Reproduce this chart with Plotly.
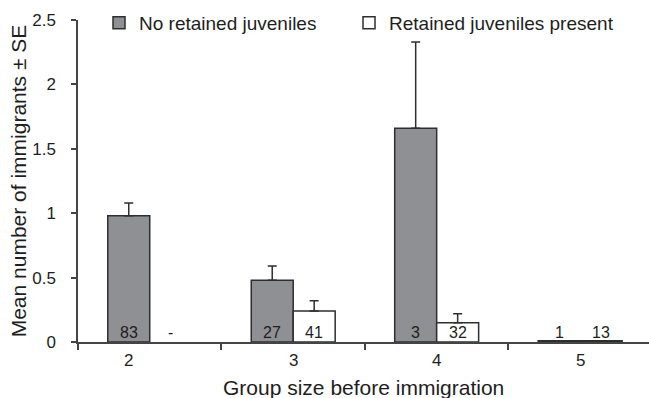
import plotly.graph_objects as go

# Group size before immigration (categories)
group_sizes = ["2", "3", "4", "5"]

# Mean number of immigrants and SE, groups without retained juveniles
no_retained_mean = [0.98, 0.48, 1.66, 0.01]
no_retained_se = [0.10, 0.11, 0.67, 0.0]
no_retained_n = ["83", "27", "3", "1"]

# Mean number of immigrants and SE, groups with retained juveniles present
retained_mean = [None, 0.24, 0.15, 0.01]
retained_se = [None, 0.08, 0.07, 0.0]
retained_n = ["-", "41", "32", "13"]

FONT = "Liberation Sans, Arial, sans-serif"
INK = "#1e1e1e"
EDGE = "#2e2e2e"
BAR_HALF = 21  # pixel offset from category centre to each bar centre

fig = go.Figure()

fig.add_trace(go.Bar(
    x=group_sizes, y=no_retained_mean, name="No retained juveniles",
    legend="legend",
    marker=dict(color="#8f9094", line=dict(color=EDGE, width=1.5)),
    error_y=dict(type="data", symmetric=False, array=no_retained_se,
                 arrayminus=[0] * len(no_retained_se),
                 color=EDGE, thickness=1.5, width=4.5),
))
fig.add_trace(go.Bar(
    x=group_sizes, y=retained_mean, name="Retained juveniles present",
    legend="legend2",
    marker=dict(color="white", line=dict(color=EDGE, width=1.5)),
    error_y=dict(type="data", symmetric=False,
                 array=[0 if v is None else v for v in retained_se],
                 arrayminus=[0] * len(retained_se),
                 color=EDGE, thickness=1.5, width=4.5),
))

annotations = []
# sample sizes written at the foot of each bar (x given as category index)
for i, (n_a, n_b) in enumerate(zip(no_retained_n, retained_n)):
    annotations.append(dict(x=i, y=0, text=n_a, showarrow=False, xshift=-BAR_HALF,
                            yanchor="bottom", yshift=-1, font=dict(size=16, color=INK)))
    annotations.append(dict(x=i, y=0, text=n_b, showarrow=False, xshift=BAR_HALF,
                            yanchor="bottom", yshift=-1, font=dict(size=16, color=INK)))

# category labels under the axis (the first sits under its single bar)
for i, cat in enumerate(group_sizes):
    annotations.append(dict(x=i, y=0, yref="y", text=cat, showarrow=False,
                            xshift=-BAR_HALF if i == 0 else 0,
                            yanchor="top", yshift=-7, font=dict(size=17, color=INK)))

# x-axis title
annotations.append(dict(x=0.5, y=0, xref="paper", yref="y", text="Group size before immigration",
                        showarrow=False, yanchor="top", yshift=-32,
                        font=dict(size=21, color=INK)))

legend_common = dict(orientation="h", xref="container", yref="container",
                     y=1 - 4 / 398, xanchor="left", yanchor="top",
                     font=dict(size=19, color=INK), bgcolor="rgba(0,0,0,0)",
                     itemclick=False, itemdoubleclick=False)

fig.update_layout(
    width=649, height=398,
    margin=dict(l=78, r=0, t=20, b=56, autoexpand=False),
    paper_bgcolor="white", plot_bgcolor="white",
    font=dict(family=FONT, color=INK, size=17),
    barmode="group", bargap=0.415, bargroupgap=0,
    showlegend=True,
    legend=dict(x=99 / 649, **legend_common),
    legend2=dict(x=349 / 649, **legend_common),
    annotations=annotations,
)

fig.update_xaxes(
    type="category", range=[-0.5, 3.48],
    showline=True, linecolor="#444444", linewidth=1.5,
    ticks="outside", tickson="boundaries", ticklen=6, tickcolor="#444444", tickwidth=1.5,
    showticklabels=False, showgrid=False, zeroline=False, fixedrange=True,
)
fig.update_yaxes(
    range=[0, 2.5], dtick=0.5, tick0=0,
    showline=True, linecolor="#444444", linewidth=1.5,
    ticks="outside", ticklen=5, tickcolor="#444444", tickwidth=1.5,
    ticklabelstandoff=12,
    tickfont=dict(size=17, color=INK),
    showgrid=False, zeroline=False, fixedrange=True,
    title=dict(text="Mean number of immigrants ± SE", font=dict(size=21, color=INK), standoff=0),
)

fig.write_html("out.html")
